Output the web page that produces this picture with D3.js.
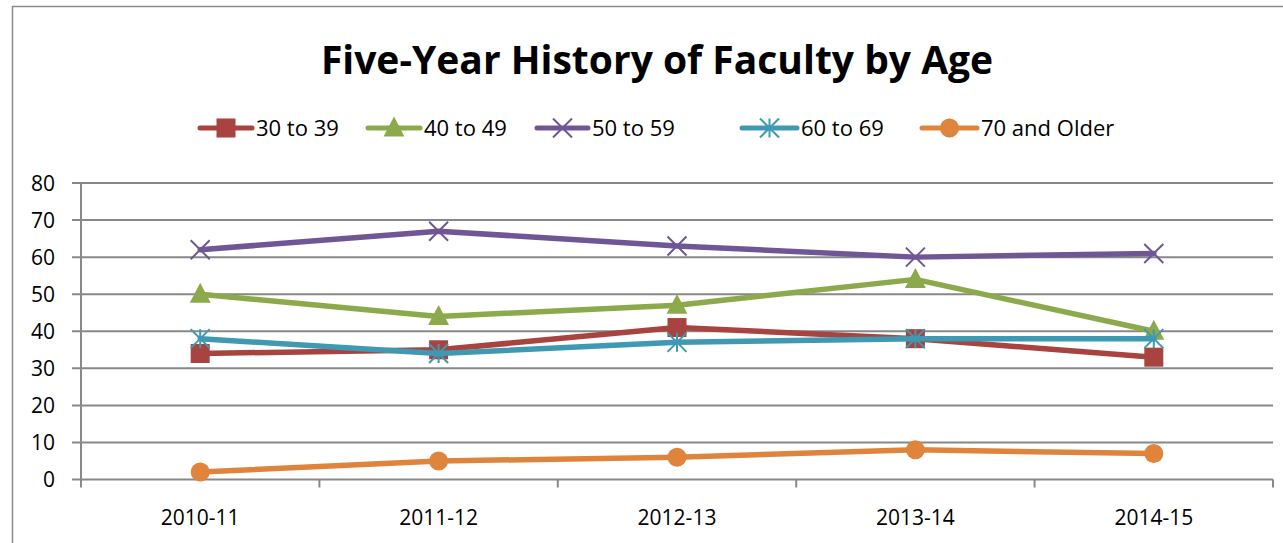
<!DOCTYPE html>
<html>
<head>
<meta charset="utf-8">
<script src="https://cdn.jsdelivr.net/npm/d3@7"></script>
<style>
  body { margin: 0; background: #fff; }
  text { font-family: "Open Sans", "Noto Sans", sans-serif; fill: #000; }
</style>
</head>
<body>
<div id="chart"></div>
<script>
// data
var categories = ["2010-11", "2011-12", "2012-13", "2013-14", "2014-15"];
var seriesNames = ["30 to 39", "40 to 49", "50 to 59", "60 to 69", "70 and Older"];
var age30 = [34, 35, 41, 38, 33];
var age40 = [50, 44, 47, 54, 40];
var age50 = [62, 67, 63, 60, 61];
var age60 = [38, 34, 37, 38, 38];
var age70 = [2, 5, 6, 8, 7];
var yTicks = [0, 10, 20, 30, 40, 50, 60, 70, 80];

var colors = ["#A8433F", "#8CAA4B", "#6F5695", "#3F99B2", "#E0843B"];
var markers = ["square", "triangle", "x", "star", "circle"];
var series = [age30, age40, age50, age60, age70].map(function(v, i) {
    return { name: seriesNames[i], values: v, color: colors[i], marker: markers[i] };
});

var W = 1283, H = 543;
var svg = d3.select("#chart").append("svg")
    .attr("width", W).attr("height", H);

// outer chart border
svg.append("rect")
    .attr("x", 12.5).attr("y", 6.5)
    .attr("width", W + 20).attr("height", H + 20)
    .attr("fill", "none").attr("stroke", "#8a8a8a").attr("stroke-width", 1.5);

var plotLeft = 81, plotRight = 1273, plotTop = 183, plotBottom = 479.5;

var x = d3.scaleBand().domain(categories).range([plotLeft, plotRight]);
var y = d3.scaleLinear().domain([0, 80]).range([plotBottom, plotTop]);
var cx = function(i) { return x(categories[i]) + x.bandwidth() / 2; };

/* gridlines */
svg.append("g").selectAll("line")
    .data(yTicks).enter().append("line")
    .attr("x1", plotLeft - 9).attr("x2", plotRight)
    .attr("y1", function(d) { return y(d); })
    .attr("y2", function(d) { return y(d); })
    .attr("stroke", "#888").attr("stroke-width", 2);

/* y axis */
svg.append("line")
    .attr("x1", plotLeft).attr("x2", plotLeft).attr("y1", plotTop).attr("y2", plotBottom + 8)
    .attr("stroke", "#888").attr("stroke-width", 2);

svg.append("g").selectAll("text")
    .data(yTicks).enter().append("text")
    .attr("x", 55).attr("y", function(d) { return y(d); })
    .attr("dy", "0.36em")
    .attr("text-anchor", "end")
    .style("font-size", "21px")
    .text(function(d) { return d; });

/* x axis ticks at band boundaries */
var bounds = categories.map(function(c) { return x(c); }).concat([plotRight]);
svg.append("g").selectAll("line")
    .data(bounds.slice(1)).enter().append("line")
    .attr("x1", function(d) { return d; }).attr("x2", function(d) { return d; })
    .attr("y1", plotBottom).attr("y2", plotBottom + 8)
    .attr("stroke", "#888").attr("stroke-width", 2);

var xAxis = d3.axisBottom(x).tickSize(0).tickPadding(0);
var gx = svg.append("g")
    .attr("transform", "translate(0," + plotBottom + ")")
    .call(xAxis);
gx.select(".domain").remove();
gx.selectAll("text")
    .attr("y", 45).attr("dy", 0)
    .style("font-size", "21px")
    .style("font-family", "'Open Sans', sans-serif")
    .attr("fill", "#000");

/* marker drawing */
function drawMarker(g, type, color, s) {
    if (type === "square") {
        g.append("rect").attr("x", -s / 2).attr("y", -s / 2)
            .attr("width", s).attr("height", s).attr("fill", color);
    } else if (type === "triangle") {
        g.append("path").attr("d", "M0," + (-s * 0.6) + "L" + (s * 0.55) + "," + (s * 0.45) + "L" + (-s * 0.55) + "," + (s * 0.45) + "Z")
            .attr("fill", color);
    } else if (type === "circle") {
        g.append("circle").attr("r", s / 2).attr("fill", color);
    } else if (type === "x") {
        var h = s / 2;
        g.append("path").attr("d", "M" + -h + "," + -h + "L" + h + "," + h + "M" + -h + "," + h + "L" + h + "," + -h)
            .attr("stroke", color).attr("stroke-width", 2).attr("fill", "none");
    } else if (type === "star") {
        var h2 = s / 2;
        g.append("path").attr("d", "M" + -h2 + "," + -h2 + "L" + h2 + "," + h2 + "M" + -h2 + "," + h2 + "L" + h2 + "," + -h2 + "M0," + -h2 + "L0," + h2)
            .attr("stroke", color).attr("stroke-width", 2).attr("fill", "none");
    }
}

var line = d3.line()
    .x(function(d, i) { return cx(i); })
    .y(function(d) { return y(d); });

series.forEach(function(s) {
    svg.append("path")
        .datum(s.values)
        .attr("d", line)
        .attr("fill", "none")
        .attr("stroke", s.color)
        .attr("stroke-width", 5.5)
        .attr("stroke-linejoin", "round")
        .attr("stroke-linecap", "round");
    s.values.forEach(function(v, i) {
        var g = svg.append("g").attr("transform", "translate(" + cx(i) + "," + y(v) + ")");
        drawMarker(g, s.marker, s.color, 19);
    });
});

/* title */
svg.append("text")
    .attr("x", 657).attr("y", 74)
    .attr("text-anchor", "middle")
    .style("font-size", "39px").style("font-weight", "bold")
    .text("Five-Year History of Faculty by Age");

/* legend */
var legendX = [200, 368, 537, 742, 922];
var legendW = [52, 52, 51, 55, 55];
series.forEach(function(s, i) {
    var g = svg.append("g").attr("transform", "translate(" + legendX[i] + ",128)");
    g.append("line").attr("x1", 0).attr("x2", legendW[i])
        .attr("stroke", s.color).attr("stroke-width", 5).attr("stroke-linecap", "round");
    var m = g.append("g").attr("transform", "translate(" + legendW[i] / 2 + ",0)");
    drawMarker(m, s.marker, s.color, 19);
    g.append("text").attr("x", legendW[i] + 4).attr("dy", "0.35em")
        .style("font-size", "22px").text(s.name);
});
</script>
</body>
</html>
